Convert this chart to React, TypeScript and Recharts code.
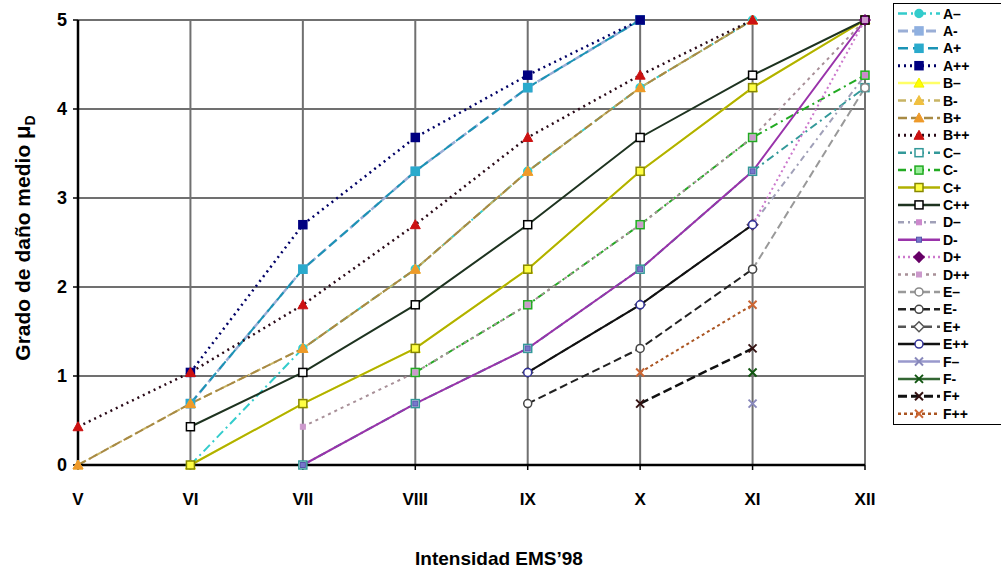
import { LineChart, Line, XAxis, YAxis, CartesianGrid } from "recharts";

// Intensity categories and damage-grade ticks
const categories = ["V", "VI", "VII", "VIII", "IX", "X", "XI", "XII"];
const yTicks = [0, 1, 2, 3, 4, 5];

// Mean damage grade per intensity (V..XII), null where the class has no value
const aMinus2 = [null, 0, 1.31, 2.2, 3.3, 4.24, 5, null];
const aMinus = [null, 0.69, 2.2, 3.3, 4.24, 5, null, null];
const aPlus = [null, 0.69, 2.2, 3.3, 4.24, 5, null, null];
const aPlus2 = [null, 1.04, 2.7, 3.68, 4.38, 5, null, null];
const bMinus2 = [null, 0, 0.69, 1.31, 2.2, 3.3, 4.24, 5];
const bMinus = [0, 0.69, 1.31, 2.2, 3.3, 4.24, 5, null];
const bPlus = [0, 0.69, 1.31, 2.2, 3.3, 4.24, 5, null];
const bPlus2 = [0.43, 1.04, 1.8, 2.7, 3.68, 4.38, 5, null];
const cMinus2 = [null, null, 0, 0.69, 1.31, 2.2, 3.3, 4.24];
const cMinus = [null, null, null, 1.04, 1.8, 2.7, 3.68, 4.38];
const cPlus = [null, 0, 0.69, 1.31, 2.2, 3.3, 4.24, 5];
const cPlus2 = [null, 0.43, 1.04, 1.8, 2.7, 3.68, 4.38, 5];
const dMinus2 = [null, null, null, null, null, null, 2.7, 4.38];
const dMinus = [null, null, 0, 0.69, 1.31, 2.2, 3.3, 5];
const dPlus = [null, null, null, null, null, null, 2.7, 5];
const dPlus2 = [null, null, 0.43, 1.04, 1.8, 2.7, 3.68, 5];
const eMinus2 = [null, null, null, null, null, null, 2.2, 4.24];
const eMinus = [null, null, null, null, 0.69, 1.31, 2.2, null];
const ePlus = [null, null, null, null, 1.04, 1.8, 2.7, null];
const ePlus2 = [null, null, null, null, 1.04, 1.8, 2.7, null];
const fMinus2 = [null, null, null, null, null, null, 0.69, null];
const fMinus = [null, null, null, null, null, null, 1.04, null];
const fPlus = [null, null, null, null, null, 0.69, 1.31, null];
const fPlus2 = [null, null, null, null, null, 1.04, 1.8, null];

type Marker = "square" | "circle" | "triangle" | "diamond" | "x" | "small";

interface SeriesStyle {
  name: string;
  values: (number | null)[];
  stroke: string;
  width: number;
  dash?: string;
  marker: Marker;
  fill: string;
  markStroke: string;
}

const series: SeriesStyle[] = [
  { name: "A–", values: aMinus2, stroke: "#33cccc", width: 2, dash: "9 4 2 4", marker: "circle", fill: "#33cccc", markStroke: "#33cccc" },
  { name: "A-", values: aMinus, stroke: "#9aaed6", width: 2.5, dash: "10 4", marker: "square", fill: "#8fb0e0", markStroke: "#8fb0e0" },
  { name: "A+", values: aPlus, stroke: "#1b93b5", width: 2, dash: "10 5", marker: "square", fill: "#2aaacc", markStroke: "#2aaacc" },
  { name: "A++", values: aPlus2, stroke: "#000066", width: 2.5, dash: "2 4", marker: "square", fill: "#000080", markStroke: "#000080" },
  { name: "B–", values: bMinus2, stroke: "#ffff66", width: 2, marker: "triangle", fill: "#ffff00", markStroke: "#eeee00" },
  { name: "B-", values: bMinus, stroke: "#c8b464", width: 2, dash: "8 4 2 4", marker: "triangle", fill: "#f0c040", markStroke: "#f0c040" },
  { name: "B+", values: bPlus, stroke: "#a88a44", width: 2, dash: "9 4", marker: "triangle", fill: "#ee9a2a", markStroke: "#ee9a2a" },
  { name: "B++", values: bPlus2, stroke: "#2a0a18", width: 2.5, dash: "2 4", marker: "triangle", fill: "#cc1111", markStroke: "#cc1111" },
  { name: "C–", values: cMinus2, stroke: "#339999", width: 2, dash: "8 4 2 4", marker: "square", fill: "#ffffff", markStroke: "#339999" },
  { name: "C-", values: cMinus, stroke: "#22aa22", width: 2, dash: "8 4 2 4", marker: "square", fill: "#99ee99", markStroke: "#22aa22" },
  { name: "C+", values: cPlus, stroke: "#b0b000", width: 2, marker: "square", fill: "#ffff44", markStroke: "#888800" },
  { name: "C++", values: cPlus2, stroke: "#1e3320", width: 2, marker: "square", fill: "#ffffff", markStroke: "#000000" },
  { name: "D–", values: dMinus2, stroke: "#a0a0b8", width: 2, dash: "6 4 2 4", marker: "small", fill: "#cc88cc", markStroke: "#cc88cc" },
  { name: "D-", values: dMinus, stroke: "#9933aa", width: 2, marker: "small", fill: "#7777cc", markStroke: "#5555aa" },
  { name: "D+", values: dPlus, stroke: "#cc77cc", width: 2, dash: "2 3", marker: "diamond", fill: "#660066", markStroke: "#660066" },
  { name: "D++", values: dPlus2, stroke: "#a89098", width: 2, dash: "3 4", marker: "small", fill: "#cc99cc", markStroke: "#cc99cc" },
  { name: "E–", values: eMinus2, stroke: "#999999", width: 2, dash: "8 4", marker: "circle", fill: "#ffffff", markStroke: "#888888" },
  { name: "E-", values: eMinus, stroke: "#222222", width: 2, dash: "8 4", marker: "circle", fill: "#ffffff", markStroke: "#444444" },
  { name: "E+", values: ePlus, stroke: "#555555", width: 2, dash: "8 5", marker: "diamond", fill: "#ffffff", markStroke: "#555555" },
  { name: "E++", values: ePlus2, stroke: "#111111", width: 2, marker: "circle", fill: "#ffffff", markStroke: "#333399" },
  { name: "F–", values: fMinus2, stroke: "#9999cc", width: 2, marker: "x", fill: "#8888bb", markStroke: "#8888bb" },
  { name: "F-", values: fMinus, stroke: "#336633", width: 2, marker: "x", fill: "#115511", markStroke: "#115511" },
  { name: "F+", values: fPlus, stroke: "#111111", width: 2.5, dash: "9 4", marker: "x", fill: "#331111", markStroke: "#331111" },
  { name: "F++", values: fPlus2, stroke: "#aa5522", width: 2, dash: "3 3", marker: "x", fill: "#cc6633", markStroke: "#cc6633" },
];

const data = categories.map((cat, i) => {
  const row: Record<string, string | number | null> = { cat };
  series.forEach((s, k) => {
    row["s" + k] = s.values[i];
  });
  return row;
});

const FONT = "'Liberation Sans', Arial, sans-serif";

function MarkerShape({ s, cx, cy }: { s: SeriesStyle; cx: number; cy: number }) {
  const r = 4;
  switch (s.marker) {
    case "square":
      return <rect x={cx - r} y={cy - r} width={r * 2} height={r * 2} fill={s.fill} stroke={s.markStroke} strokeWidth={1.5} />;
    case "circle":
      return <circle cx={cx} cy={cy} r={r} fill={s.fill} stroke={s.markStroke} strokeWidth={1.5} />;
    case "triangle":
      return (
        <polygon
          points={`${cx},${cy - r - 1} ${cx + r + 1},${cy + r} ${cx - r - 1},${cy + r}`}
          fill={s.fill}
          stroke={s.markStroke}
          strokeWidth={1}
        />
      );
    case "diamond":
      return (
        <polygon
          points={`${cx},${cy - r - 1} ${cx + r + 1},${cy} ${cx},${cy + r + 1} ${cx - r - 1},${cy}`}
          fill={s.fill}
          stroke={s.markStroke}
          strokeWidth={1.5}
        />
      );
    case "x":
      return (
        <g stroke={s.fill} strokeWidth={2}>
          <line x1={cx - r} y1={cy - r} x2={cx + r} y2={cy + r} />
          <line x1={cx - r} y1={cy + r} x2={cx + r} y2={cy - r} />
        </g>
      );
    default:
      return <rect x={cx - 2.5} y={cy - 2.5} width={5} height={5} fill={s.fill} stroke={s.markStroke} strokeWidth={1} />;
  }
}

const makeDot = (s: SeriesStyle, k: number) => (props: any) => {
  const { cx, cy, index, value } = props;
  if (cx == null || cy == null || value == null || Number.isNaN(cy)) return <g key={`d${k}-${index}`} />;
  return (
    <g key={`d${k}-${index}`}>
      <MarkerShape s={s} cx={cx} cy={cy} />
    </g>
  );
};

function YLabel() {
  return (
    <text
      transform="translate(30, 238) rotate(-90)"
      textAnchor="middle"
      fontFamily={FONT}
      fontWeight="bold"
      fontSize={21}
      fill="#000"
    >
      Grado de daño medio{"  "}
      <tspan fontSize={22}>μ</tspan>
      <tspan fontSize={14} dy={5}>D</tspan>
    </text>
  );
}

function XLabel() {
  return (
    <text x={499} y={565} textAnchor="middle" fontFamily={FONT} fontWeight="bold" fontSize={19} fill="#000">
      Intensidad EMS’98
    </text>
  );
}

function LegendBox() {
  const rowH = 17.4;
  return (
    <div
      style={{
        position: "absolute",
        left: 893,
        top: 3,
        width: 118,
        height: 24 * rowH + 4,
        border: "1.5px solid #000",
        background: "#fff",
        boxSizing: "border-box",
      }}
    >
      <svg width={118} height={24 * rowH + 4}>
        {series.map((s, k) => {
          const cy = 9.5 + k * rowH;
          return (
            <g key={s.name}>
              <line x1={4} x2={46} y1={cy} y2={cy} stroke={s.stroke} strokeWidth={s.width + 0.5} strokeDasharray={s.dash} />
              <MarkerShape s={s} cx={25} cy={cy} />
              <text x={49} y={cy + 5} fontFamily={FONT} fontWeight="bold" fontSize={14} fill="#000">
                {s.name}
              </text>
            </g>
          );
        })}
      </svg>
    </div>
  );
}

export default function App() {
  return (
    <div style={{ position: "relative", width: 1001, height: 573, background: "#fff", overflow: "hidden" }}>
      <style>{`body{margin:0}`}</style>
      <LineChart width={1001} height={573} data={data} margin={{ top: 20, right: 136, bottom: 8, left: 28 }}>
        <CartesianGrid stroke="#707070" strokeWidth={2} />
        <XAxis
          dataKey="cat"
          height={100}
          tickSize={5}
          tickMargin={23}
          axisLine={{ stroke: "#000", strokeWidth: 2.5 }}
          tickLine={{ stroke: "#000", strokeWidth: 1.5 }}
          tick={{ fontFamily: FONT, fontWeight: "bold", fontSize: 17, fill: "#000" }}
          label={<XLabel />}
        />
        <YAxis
          domain={[0, 5]}
          ticks={yTicks}
          width={50}
          tickSize={5}
          tickMargin={6}
          axisLine={{ stroke: "#000", strokeWidth: 2.5 }}
          tickLine={{ stroke: "#000", strokeWidth: 1.5 }}
          tick={{ fontFamily: FONT, fontWeight: "bold", fontSize: 18, fill: "#000" }}
        />
        {series.map((s, k) => (
          <Line
            key={s.name}
            dataKey={"s" + k}
            name={s.name}
            type="linear"
            stroke={s.stroke}
            strokeWidth={s.width}
            strokeDasharray={s.dash}
            dot={makeDot(s, k)}
            activeDot={false}
            connectNulls={false}
            isAnimationActive={false}
          />
        ))}
        <YLabel />
      </LineChart>
      <LegendBox />
    </div>
  );
}
